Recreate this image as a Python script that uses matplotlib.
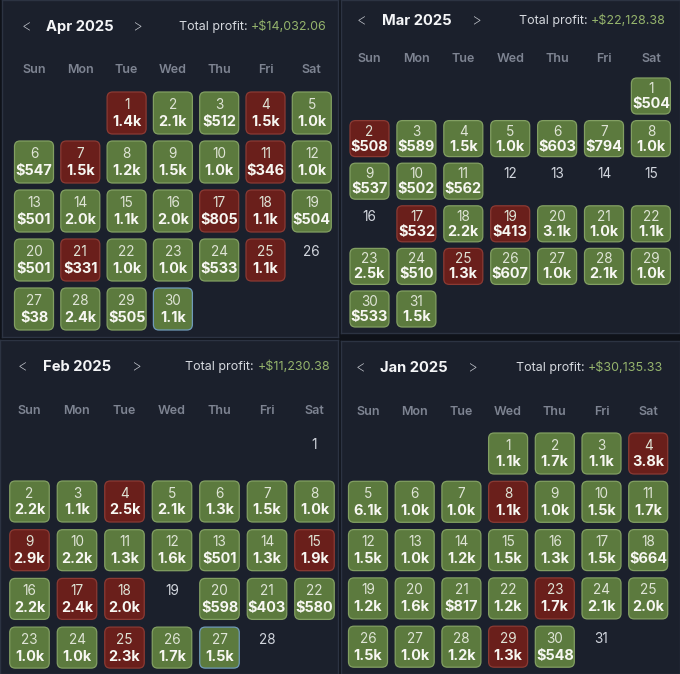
import matplotlib
matplotlib.use("Agg")
import matplotlib.pyplot as plt
from matplotlib.patches import FancyBboxPatch

plt.rcParams['font.family'] = ['Inter', 'DejaVu Sans']

# ---------------- data ----------------
weekdays = ["Sun", "Mon", "Tue", "Wed", "Thu", "Fri", "Sat"]

apr_title = "Apr 2025"
apr_total = "+$14,032.06"
apr_first_weekday = 2  # Tue
apr_values = [-1400, 2100, 512, -1500, 1000, 547, -1500, 1200, 1500, 1000,
              -346, 1000, 501, 2000, 1100, 2000, -805, -1100, 504, 501,
              -331, 1000, 1000, 533, -1100, None, 38, 2400, 505, 1100]
apr_highlight = [30]

mar_title = "Mar 2025"
mar_total = "+$22,128.38"
mar_first_weekday = 6  # Sat
mar_values = [504, -508, 589, 1500, 1000, 603, 794, 1000, 537, 502,
              562, None, None, None, None, None, -532, 2200, -413, 3100,
              1000, 1100, 2500, 510, -1300, 607, 1000, 2100, 1000, 533, 1500]
mar_highlight = []

feb_title = "Feb 2025"
feb_total = "+$11,230.38"
feb_first_weekday = 6  # Sat
feb_values = [None, 2200, 1100, -2500, 2100, 1300, 1500, 1000, -2900, 2200,
              1300, 1600, 501, 1300, -1900, 2200, -2400, -2000, None, 598,
              403, 580, 1000, 1000, -2300, 1700, 1500, None]
feb_highlight = [27]

jan_title = "Jan 2025"
jan_total = "+$30,135.33"
jan_first_weekday = 3  # Wed
jan_values = [1100, 1700, 1100, -3800, 6100, 1000, 1000, -1100, 1000, 1500,
              1700, 1500, 1000, 1200, 1500, 1300, 1500, 664, 1200, 1600,
              817, 1200, -1700, 2100, 2000, 1500, 1000, 1200, -1300, 548, None]
jan_highlight = []

# ---------------- style ----------------
FIG_BG = "#0f1219"
PANEL_BG = "#1b202c"
PANEL_EDGE = "#2c3342"
GREEN_FACE = "#5c7a3e"
GREEN_EDGE = "#829f62"
RED_FACE = "#6a1f1b"
RED_EDGE = "#8b3a33"
HIGHLIGHT_EDGE = "#6f9ab8"
WEEKDAY_COLOR = "#7e8492"
TITLE_COLOR = "#f4f5f7"
LABEL_COLOR = "#d6d9df"
PROFIT_COLOR = "#95b46c"
EMPTY_DAY_COLOR = "#d2d6de"
CELL_NUM_COLOR = "#dfe4d6"
CELL_VAL_COLOR = "#f7f7f2"

W, H = 680, 674

# layout (pixels): panel rect, column center 0 & pitch, row center 0 & pitch,
# header y, weekday y, arrow/title x, right edge of total profit, cell size
layouts = {
    "apr": dict(rect=(2, 0, 338, 337), col0=34, cpx=46.3, row0=113, rpx=49.0,
                hy=27, wy=70, lx=26, tx=80, rx=138, px=327, cw=39, ch=42),
    "mar": dict(rect=(341, 0, 680, 333), col0=369.5, cpx=46.9, row0=96, rpx=42.6,
                hy=21, wy=59, lx=361, tx=417, rx=477, px=666, cw=39, ch=36),
    "feb": dict(rect=(0, 340, 338, 674), col0=29.5, cpx=47.5, row0=452.8, rpx=48.7,
                hy=367, wy=411, lx=22, tx=77, rx=137, px=330, cw=39.5, ch=41),
    "jan": dict(rect=(341, 341, 680, 674), col0=368, cpx=46.7, row0=453.5, rpx=48.3,
                hy=368, wy=412, lx=360, tx=414, rx=473, px=663, cw=39, ch=41),
}


def fmt(v):
    a = abs(v)
    if a >= 1000:
        return f"{a / 1000:.1f}k"
    return f"${a:.0f}"


fig = plt.figure(figsize=(W / 100, H / 100), dpi=100, facecolor=FIG_BG)


def draw_panel(key, title, total, first_wd, values, highlight):
    L = layouts[key]
    x0, y0, x1, y1 = L["rect"]
    ax = fig.add_axes([x0 / W, 1 - y1 / H, (x1 - x0) / W, (y1 - y0) / H])
    ax.set_facecolor(PANEL_BG)
    col0, cpx, row0, rpx = L["col0"], L["cpx"], L["row0"], L["rpx"]
    ax.set_xlim((x0 - col0) / cpx, (x1 - col0) / cpx)
    ax.set_ylim((y1 - row0) / rpx, (y0 - row0) / rpx)
    ax.set_xticks([])
    ax.set_yticks([])
    for s in ax.spines.values():
        s.set_color(PANEL_EDGE)
        s.set_linewidth(1.0)

    def dx(p):
        return (p - col0) / cpx

    def dy(p):
        return (p - row0) / rpx

    # header
    ax.text(dx(L["lx"]), dy(L["hy"]), "<", color="#c9ccd3", fontsize=11,
            ha="center", va="center", fontweight="light")
    ax.text(dx(L["tx"]), dy(L["hy"]), title, color=TITLE_COLOR, fontsize=10.6,
            ha="center", va="center", fontweight="bold")
    ax.text(dx(L["rx"]), dy(L["hy"]), ">", color="#c9ccd3", fontsize=11,
            ha="center", va="center", fontweight="light")
    tv = ax.text(dx(L["px"]), dy(L["hy"]), total, color=PROFIT_COLOR,
                 fontsize=9.0, ha="right", va="center")
    ax.annotate("Total profit: ", xy=(0, 0.5), xycoords=tv, color=LABEL_COLOR,
                fontsize=9.0, ha="right", va="center")

    # weekday row
    for i, wd in enumerate(weekdays):
        ax.text(i, dy(L["wy"]), wd, color=WEEKDAY_COLOR, fontsize=9.0,
                ha="center", va="center", fontweight="semibold")

    w = L["cw"] / cpx
    h = L["ch"] / rpx
    rad = 5.5 / cpx
    off_num = 8.0 / rpx if L["ch"] > 38 else 7.0 / rpx
    off_val = 9.0 / rpx if L["ch"] > 38 else 8.0 / rpx

    for d, v in enumerate(values, start=1):
        idx = first_wd + d - 1
        c = idx % 7
        r = idx // 7
        if v is None:
            ax.text(c, r - off_num, str(d), color=EMPTY_DAY_COLOR, fontsize=9.8,
                    ha="center", va="center")
            continue
        face = GREEN_FACE if v >= 0 else RED_FACE
        edge = GREEN_EDGE if v >= 0 else RED_EDGE
        if d in highlight:
            edge = HIGHLIGHT_EDGE
        p = FancyBboxPatch((c - w / 2, r - h / 2), w, h,
                           boxstyle=f"round,pad=0,rounding_size={rad}",
                           mutation_aspect=cpx / rpx,
                           facecolor=face, edgecolor=edge, linewidth=0.9)
        ax.add_patch(p)
        ax.text(c, r - off_num, str(d), color=CELL_NUM_COLOR, fontsize=9.8,
                ha="center", va="center")
        ax.text(c, r + off_val, fmt(v), color=CELL_VAL_COLOR, fontsize=10.4,
                ha="center", va="center", fontweight="bold")


draw_panel("apr", apr_title, apr_total, apr_first_weekday, apr_values, apr_highlight)
draw_panel("mar", mar_title, mar_total, mar_first_weekday, mar_values, mar_highlight)
draw_panel("feb", feb_title, feb_total, feb_first_weekday, feb_values, feb_highlight)
draw_panel("jan", jan_title, jan_total, jan_first_weekday, jan_values, jan_highlight)

fig.savefig("out.png", dpi=100, facecolor=FIG_BG)
